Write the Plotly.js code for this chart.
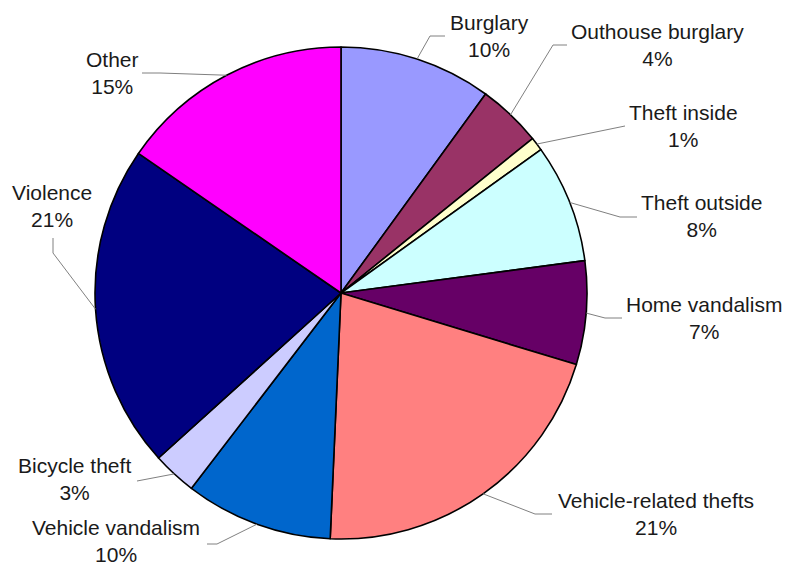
<!DOCTYPE html>
<html>
<head>
<meta charset="utf-8">
<script src="https://cdn.plot.ly/plotly-3.0.1.min.js"></script>
<style>html,body{margin:0;padding:0;background:#fff;}#chart{width:786px;height:565px;}</style>
</head>
<body>
<div id="chart"></div>
<script>
// ---- data ----
const categories = ["Burglary", "Outhouse burglary", "Theft inside", "Theft outside", "Home vandalism",
  "Vehicle-related thefts", "Vehicle vandalism", "Bicycle theft", "Violence", "Other"];
const values = [10, 4.2, 0.9, 7.8, 6.8, 21, 9.7, 2.9, 21.3, 15.4];
const percentLabels = ["10%", "4%", "1%", "8%", "7%", "21%", "10%", "3%", "21%", "15%"];
const colors = ["#9999FF", "#993366", "#FFFFCC", "#CCFFFF", "#660066",
  "#FF8080", "#0066CC", "#CCCCFF", "#000080", "#FF00FF"];

// ---- layout (pixels) ----
const W = 786, H = 565;
const CX = 341, CY = 293, R = 246;
// label centres
const labelPos = [[489,36],[657,45],[683,126],[701,216],[704,318],[656,514],[116,541],[74,479],[52,206],[112,73]];
// leader line bends after the slice anchor
const leaderPts = [
  [[430,36],[445,36]],
  [[553,45],[567,45]],
  [[625,126]],
  [[620,217],[637,217]],
  [[605,318],[622,318]],
  [[535,514],[552,514]],
  [[217,544],[207,544]],
  [[137,481]],
  [[53,253],[53,238]],
  [[160,73],[142,73]]
];

const px = x => x / W;
const py = y => 1 - y / H;

const total = values.reduce((a,b)=>a+b,0);
let cum = 0;
const shapes = [], annotations = [];
values.forEach((v,i) => {
  const mid = (cum + v/2) / total * 2 * Math.PI;
  cum += v;
  const ax = CX + R * Math.sin(mid), ay = CY - R * Math.cos(mid);
  let path = `M ${px(ax)} ${py(ay)}`;
  leaderPts[i].forEach(p => { path += ` L ${px(p[0])} ${py(p[1])}`; });
  shapes.push({type:'path', xref:'paper', yref:'paper', path, line:{color:'#808080', width:1}});
  annotations.push({
    xref:'paper', yref:'paper', x: px(labelPos[i][0]), y: py(labelPos[i][1]),
    xanchor:'center', yanchor:'middle', showarrow:false,
    text: categories[i] + '<br>' + percentLabels[i],
    font:{family:'Liberation Sans, Arial, sans-serif', size:21, color:'#1a1a1a'}
  });
});

const trace = {
  type:'pie',
  labels: categories,
  values: values,
  sort:false,
  direction:'clockwise',
  rotation:0,
  textinfo:'none',
  hoverinfo:'label+percent',
  marker:{colors: colors, line:{color:'#000000', width:1.6}},
  domain:{x:[(CX-R)/W, (CX+R)/W], y:[1-(CY+R)/H, 1-(CY-R)/H]}
};

Plotly.newPlot('chart', [trace], {
  width:W, height:H,
  margin:{l:0,r:0,t:0,b:0},
  showlegend:false,
  paper_bgcolor:'#ffffff',
  shapes, annotations
}, {displayModeBar:false, staticPlot:true});
</script>
</body>
</html>
